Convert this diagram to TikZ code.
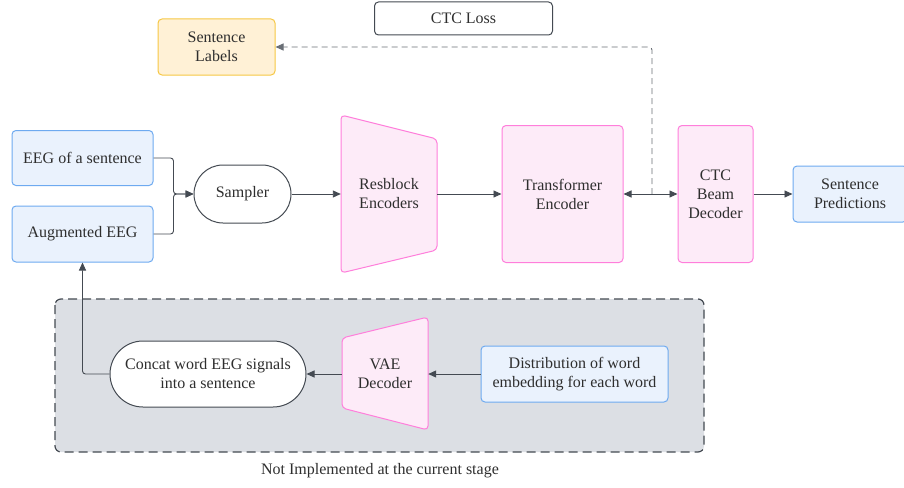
\documentclass[tikz,border=0pt]{standalone}
\usepackage{fontspec}
\setmainfont{Liberation Serif}
\usetikzlibrary{arrows.meta,calc}

\definecolor{ink}{HTML}{2E2E2E}
\definecolor{edge}{HTML}{444A52}
\definecolor{bluefill}{HTML}{EAF2FD}
\definecolor{blueline}{HTML}{6EAAF0}
\definecolor{pinkfill}{HTML}{FDEBF8}
\definecolor{pinkline}{HTML}{FF7EDB}
\definecolor{yellowfill}{HTML}{FFF1D6}
\definecolor{yellowline}{HTML}{F6C744}
\definecolor{zonefill}{HTML}{DCDFE4}

\tikzset{
  every node/.style={text=ink, font=\fontsize{16}{19}\selectfont, align=center, inner sep=0pt},
  bluebox/.style={draw=blueline, fill=bluefill, line width=1pt, rounded corners=4pt},
  pinkbox/.style={draw=pinkline, fill=pinkfill, line width=1pt, rounded corners=4pt},
  yellowbox/.style={draw=yellowline, fill=yellowfill, line width=1pt, rounded corners=4pt},
  greybox/.style={draw=edge, fill=white, line width=1pt, rounded corners=4pt},
  pill/.style={draw=edge, fill=white, line width=1pt},
  trap/.style={draw=pinkline, fill=pinkfill, line width=1pt, rounded corners=4pt},
  conn/.style={draw=edge, line width=0.9pt, -{Triangle[length=8pt,width=7pt]}},
}

\begin{document}
\begin{tikzpicture}[x=1pt, y=-1pt]
  \useasboundingbox (0,0) rectangle (904,487);

  % region for the parts that are not built yet
  \draw[draw=edge, fill=zonefill, line width=1.2pt, dash pattern=on 9pt off 5pt, rounded corners=6pt]
    (55,299) rectangle (704,452);
  \node (note) at (380,471) {Not Implemented at the current stage};

  % top row
  \node[greybox, minimum width=178pt, minimum height=33pt] (loss) at (463.5,18.5) {CTC Loss};
  \node[yellowbox, minimum width=117pt, minimum height=56pt] (lab) at (216.5,47) {Sentence\\Labels};

  % inputs
  \node[bluebox, minimum width=141pt, minimum height=55pt] (eeg) at (82.5,158) {EEG of a sentence};
  \node[bluebox, minimum width=141pt, minimum height=56pt] (aug) at (82.5,234) {Augmented EEG};

  % sampler
  \node[pill, rounded corners=29pt, minimum width=97pt, minimum height=58pt] (samp) at (242.5,194) {Sampler};

  % residual block encoders (trapezoid)
  \node[minimum width=96pt, minimum height=158pt] (res) at (389,194) {};
  \draw[trap] (341,115) -- (437,139) -- (437,250) -- (341,273) -- cycle;
  \node at (res) {Resblock\\Encoders};

  % transformer and decoder
  \node[pinkbox, minimum width=121pt, minimum height=137pt] (tr) at (562.5,194) {Transformer\\Encoder};
  \node[pinkbox, minimum width=75pt, minimum height=137pt] (ctc) at (715.5,194) {CTC\\Beam\\Decoder};
  \node[bluebox, minimum width=114pt, minimum height=56pt] (pred) at (850,194) {Sentence\\Predictions};

  % lower pipeline
  \node[pill, rounded corners=33pt, minimum width=196pt, minimum height=66pt] (cat) at (208,374) {Concat word EEG signals\\into a sentence};
  \node[minimum width=86pt, minimum height=113pt] (vae) at (385,374) {};
  \draw[trap] (342,338) -- (428,317) -- (428,430) -- (342,408) -- cycle;
  \node at (vae) {VAE\\Decoder};
  \node[bluebox, minimum width=187pt, minimum height=56pt] (dist) at (574.5,374) {Distribution of word\\embedding for each word};

  % connectors
  \draw[conn, rounded corners=3pt] (eeg.east) -- ++(20,0) |- (samp.west);
  \draw[conn, rounded corners=3pt] (aug.east) -- ++(20,0) |- (samp.west);
  \draw[conn] (samp.east) -- (res.west);
  \draw[conn] (res.east) -- (tr.west);
  \draw[conn, {Triangle[length=8pt,width=7pt]}-{Triangle[length=8pt,width=7pt]}] (tr.east) -- (ctc.west);
  \draw[conn] (ctc.east) -- (pred.west);
  \coordinate (tap) at (652,194);
  \draw[conn, dash pattern=on 6pt off 4pt, draw=edge!80, rounded corners=3pt] (tap) -- (tap |- lab.east) -- (lab.east);
  \draw[conn] (dist.west) -- (vae.east);
  \draw[conn] (vae.west) -- (cat.east);
  \draw[conn, rounded corners=3pt] (cat.west) -| (aug.south);
\end{tikzpicture}
\end{document}
